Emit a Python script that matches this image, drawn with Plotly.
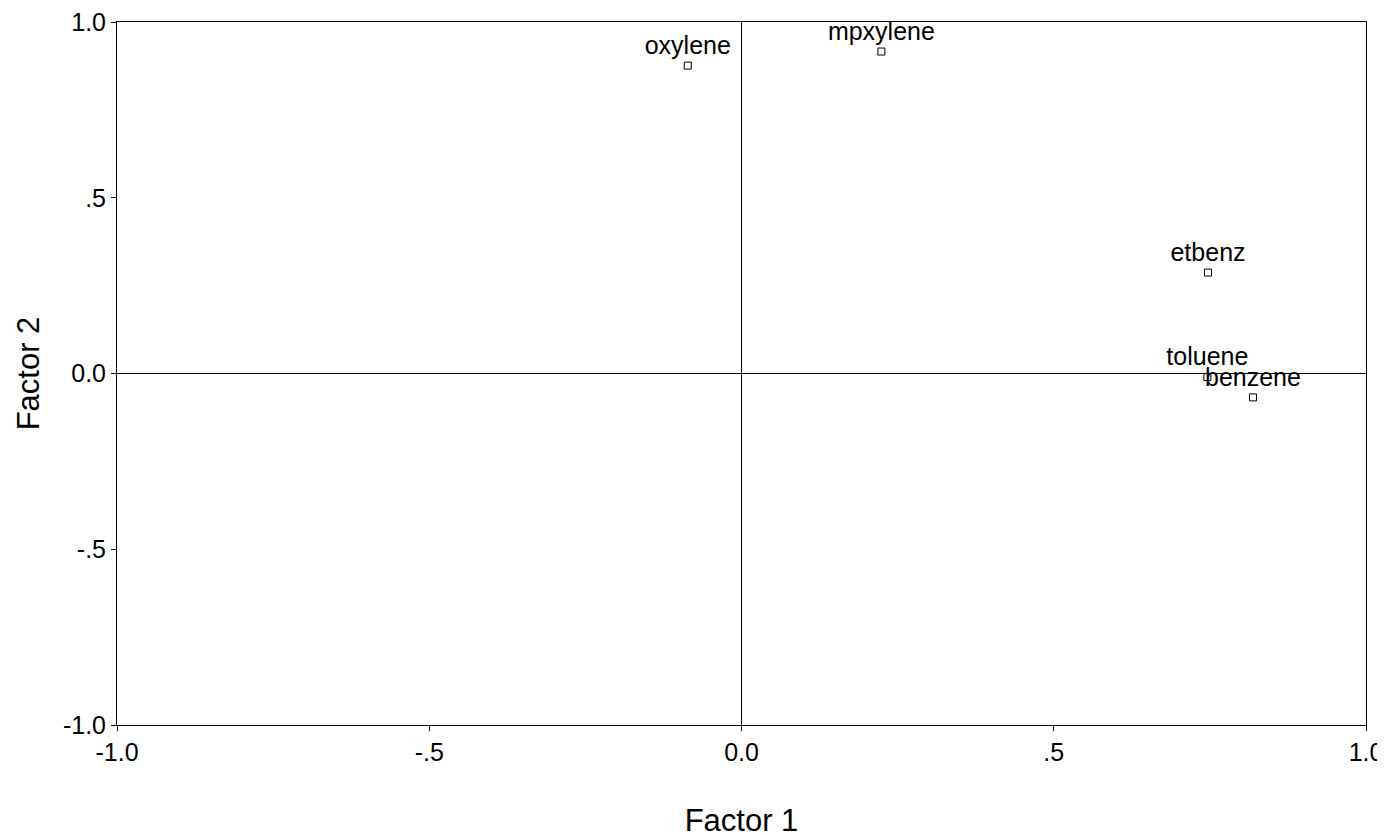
import plotly.graph_objects as go

variables = ["oxylene", "mpxylene", "etbenz", "toluene", "benzene"]
factor1 = [-0.086, 0.224, 0.747, 0.746, 0.819]
factor2 = [0.876, 0.916, 0.287, -0.010, -0.068]

tick_vals = [-1.0, -0.5, 0.0, 0.5, 1.0]
tick_text = ["-1.0", "-.5", "0.0", ".5", "1.0"]

font_family = "Liberation Sans, Arial, sans-serif"

fig = go.Figure()
fig.add_trace(go.Scatter(
    x=factor1, y=factor2, mode="markers+text",
    text=variables, textposition="top center",
    textfont=dict(family=font_family, size=25, color="black"),
    marker=dict(symbol="square-open", size=7, color="black", line=dict(width=1, color="black")),
    showlegend=False, cliponaxis=False,
))

axis_common = dict(
    range=[-1.0, 1.0], tickvals=tick_vals, ticktext=tick_text,
    showgrid=False, zeroline=True, zerolinecolor="black", zerolinewidth=1,
    showline=True, linecolor="black", linewidth=1, mirror=True,
    ticks="outside", ticklen=5, tickcolor="black", tickwidth=1,
    tickfont=dict(family=font_family, size=25, color="black"),
    ticklabeloverflow="allow",
    automargin=False,
)

fig.update_layout(
    width=1385, height=836,
    margin=dict(l=109, r=27, t=14, b=119),
    paper_bgcolor="white", plot_bgcolor="white",
    xaxis=dict(**axis_common, title=dict(text="Factor 1", font=dict(family=font_family, size=31, color="black"), standoff=44)),
    yaxis=dict(**axis_common, title=dict(text="Factor 2", font=dict(family=font_family, size=31, color="black"), standoff=14)),
)

fig.write_html("out.html")
